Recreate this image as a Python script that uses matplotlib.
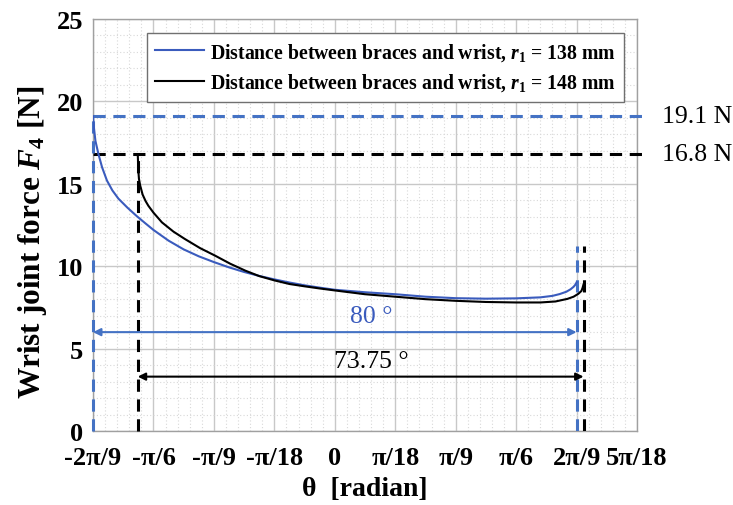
import numpy as np
import matplotlib
matplotlib.use("Agg")
import matplotlib.pyplot as plt
import matplotlib.transforms as mtransforms
from matplotlib.ticker import MultipleLocator

plt.rcParams['font.family'] = ['Liberation Serif', 'DejaVu Serif']
plt.rcParams['mathtext.fontset'] = 'custom'
plt.rcParams['mathtext.rm'] = 'Liberation Serif:bold'
plt.rcParams['mathtext.it'] = 'Liberation Serif:italic:bold'
plt.rcParams['mathtext.bf'] = 'Liberation Serif:bold'

# ---- data (theta in degrees, force in N) ----
theta_138 = [-40, -39.85, -39.6, -39.1, -38.5, -37.7, -36.8, -35.8, -34.3, -32.8, -31.4, -30,
             -27.5, -25, -22.5, -20, -17.5, -15, -12.5, -10, -7.5, -5, -2.5,
             0, 5, 10, 15, 20, 25, 30, 34, 36, 37.2, 38.3, 39.0, 39.5, 39.8, 40]
force_138 = [19.1, 18.4, 17.6, 16.8, 16.0, 15.2, 14.6, 14.1, 13.55, 13.05, 12.62, 12.2,
             11.55, 11.02, 10.6, 10.25, 9.93, 9.65, 9.41, 9.2, 9.01, 8.84, 8.7,
             8.57, 8.42, 8.3, 8.15, 8.06, 8.03, 8.05, 8.11, 8.2, 8.31, 8.45, 8.6, 8.75, 8.88, 9.02]

theta_148 = [-32.6, -32.5, -32.4, -32.2, -31.8, -31.3, -30.85, -30.0, -28.6, -26.7, -24.8,
             -22.3, -19.8, -17.3, -14.8, -12.5, -10, -7.5, -5, -2.5,
             0, 5, 10, 15, 20, 25, 30, 34, 36.5, 38.5, 39.5, 40.3, 40.8, 41.0, 41.15]
force_148 = [16.8, 15.8, 15.3, 14.9, 14.35, 13.95, 13.67, 13.25, 12.66, 12.1, 11.65,
             11.1, 10.64, 10.15, 9.73, 9.4, 9.14, 8.92, 8.78, 8.65,
             8.53, 8.3, 8.15, 8.0, 7.9, 7.83, 7.8, 7.8, 7.86, 8.02, 8.15, 8.33, 8.5, 8.7, 8.9]

labels = [r"Distance between braces and wrist, $r_1$ = 138 mm",
          r"Distance between braces and wrist, $r_1$ = 148 mm"]
range_labels = ["80 °", "73.75 °"]
end_marker_height = 11.2
arrow_levels = [6.0, 3.3]

xtick_vals = [-40, -30, -20, -10, 0, 10, 20, 30, 40, 50]
xtick_labels = ["-2π/9", "-π/6", "-π/9", "-π/18", "0", "π/18", "π/9", "π/6", "2π/9", "5π/18"]
ytick_vals = [0, 5, 10, 15, 20, 25]

blue = '#3a5bbd'
blue_d = '#4472c4'

fig = plt.figure(figsize=(7.33, 5.06), dpi=100)
ax = fig.add_axes([0.1269, 0.1462, 0.7422, 0.8143])

r = np.deg2rad
t1 = r(np.array(theta_138)); t2 = r(np.array(theta_148))
ax.set_xlim(r(-40), r(50))
ax.set_ylim(0, 25)

ax.set_xticks(r(np.array(xtick_vals)))
ax.set_xticklabels(xtick_labels)
ax.set_yticks(ytick_vals)
ax.xaxis.set_minor_locator(MultipleLocator(r(2)))
ax.yaxis.set_minor_locator(MultipleLocator(1))
ax.grid(which='major', color='#c8c8c8', lw=1.0, ls='-')
ax.grid(which='minor', color='#d8d8d8', lw=0.8, ls=(0, (1, 2)))
ax.set_axisbelow(True)
ax.tick_params(which='both', length=0, labelsize=19)
ax.tick_params(axis='x', pad=11)
ax.tick_params(axis='y', pad=7)
for lab in ax.get_xticklabels() + ax.get_yticklabels():
    lab.set_fontweight('bold')
for s in ax.spines.values():
    s.set_color('#a0a0a0')
    s.set_linewidth(1.0)

# curves
ax.plot(t1, force_138, color=blue, lw=1.5, label=labels[0], zorder=5)
ax.plot(t2, force_148, color='black', lw=1.5, label=labels[1], zorder=5)

dash = (0, (4, 2.5))
trans = mtransforms.blended_transform_factory(ax.transAxes, ax.transData)
# horizontal dashed max lines
for F, c in [(force_138[0], blue_d), (force_148[0], 'black')]:
    ax.plot([0, 1.015], [F, F], transform=trans, color=c, lw=2.2, ls=dash, clip_on=False, zorder=4)
    ax.text(1.045, F, f"{F:.1f} N", transform=trans, fontsize=18.5, va='center', ha='left')

# vertical dashed lines
ax.plot([t1[0], t1[0]], [0, force_138[0]], color=blue_d, lw=2.2, ls=dash, clip_on=False, zorder=4)
ax.plot([t2[0], t2[0]], [0, force_148[0]], color='black', lw=2.2, ls=dash, clip_on=False, zorder=4)
ax.plot([t1[-1], t1[-1]], [0, end_marker_height], color=blue_d, lw=2.2, ls=dash, zorder=4)
ax.plot([t2[-1], t2[-1]], [0, end_marker_height], color='black', lw=2.2, ls=dash, zorder=4)

# range arrows
for (ta, tb), yv, c, lab in [((t1[0], t1[-1]), arrow_levels[0], blue_d, range_labels[0]),
                             ((t2[0], t2[-1]), arrow_levels[1], 'black', range_labels[1])]:
    ax.annotate('', xy=(ta, yv), xytext=(tb, yv),
                arrowprops=dict(arrowstyle='<|-|>', color=c, lw=1.5, mutation_scale=11,
                                shrinkA=0, shrinkB=0), zorder=6)
    ax.text(r(6), yv + 0.3, lab, color=c if c != blue_d else blue, fontsize=18.5,
            ha='center', va='bottom')

leg = ax.legend(loc='upper left', bbox_to_anchor=(0.0993, 0.967), prop={'weight': 'bold', 'size': 14.2},
                frameon=True, fancybox=False, edgecolor='#707070', framealpha=1,
                handlelength=2.45, borderpad=0.42, labelspacing=0.45, handletextpad=0.3,
                borderaxespad=0)
leg.get_frame().set_linewidth(1.0)

ax.set_xlabel("θ  [radian]", fontsize=20, fontweight='bold', labelpad=5)
ax.set_ylabel(r"Wrist joint force $F_{4}$ [N]", fontsize=22.5, fontweight='bold')
ax.yaxis.set_label_coords(-0.08, 0.461)

fig.savefig("out.png", dpi=100)
